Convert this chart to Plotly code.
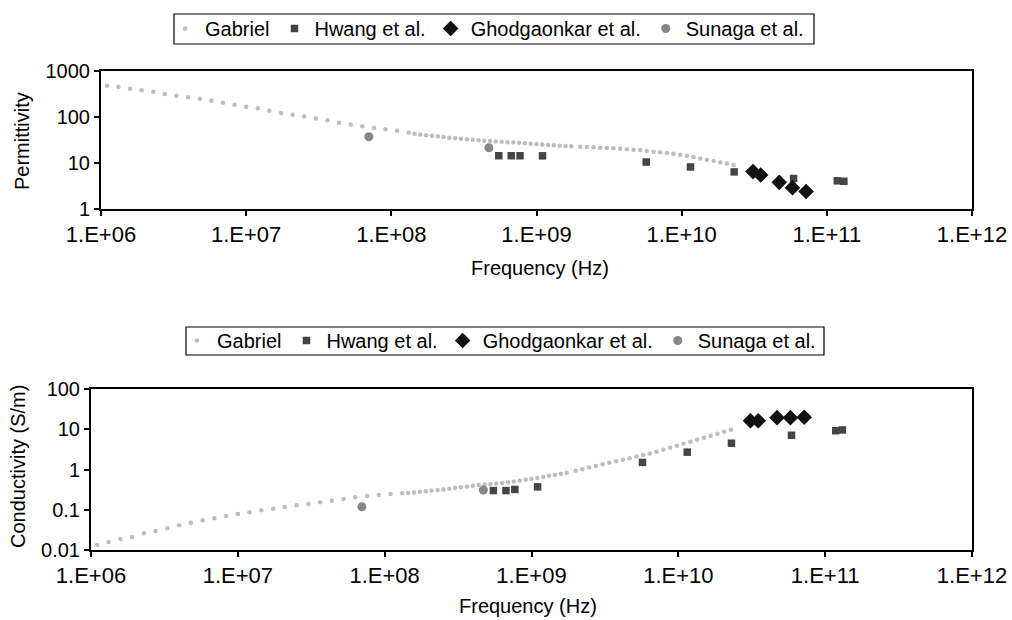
import plotly.graph_objects as go

# ---------------- data ----------------
gabriel_freq = [
    1.10e6, 1.318e6, 1.585e6, 1.905e6, 2.291e6, 2.754e6, 3.311e6, 3.981e6, 4.786e6,
    5.754e6, 6.918e6, 8.318e6, 1.0e7, 1.202e7, 1.445e7, 1.738e7, 2.089e7, 2.512e7,
    3.020e7, 3.631e7, 4.365e7, 5.248e7, 6.310e7, 7.586e7, 9.120e7, 1.096e8, 1.318e8,
    1.445e8, 1.585e8, 1.738e8, 1.905e8, 2.089e8, 2.291e8, 2.512e8, 2.754e8, 3.020e8,
    3.311e8, 3.631e8, 3.981e8, 4.365e8, 4.786e8, 5.248e8, 5.754e8, 6.310e8, 6.918e8,
    7.586e8, 8.318e8, 9.120e8, 1.0e9, 1.096e9, 1.202e9, 1.318e9, 1.445e9, 1.585e9,
    1.738e9,
    2.00e9, 2.22e9, 2.47e9, 2.74e9, 3.05e9, 3.39e9, 3.77e9, 4.19e9, 4.66e9, 5.18e9,
    5.75e9, 6.40e9, 7.11e9, 7.91e9, 8.79e9, 9.77e9, 1.086e10, 1.208e10, 1.343e10,
    1.493e10, 1.660e10, 1.845e10, 2.051e10, 2.280e10,
]
gabriel_perm = [
    480, 449, 412, 380, 355, 316, 290, 268, 250,
    226, 204, 185, 167, 155, 137, 122, 112, 104,
    93, 85, 75, 69, 63, 58, 54, 50, 46,
    43, 41.5, 40.2, 39, 38, 36.8, 35.5, 34.6, 33.7,
    32.8, 32, 31.2, 30.5, 29.9, 29.3, 28.8, 28.3, 27.9,
    27.4, 26.8, 26.2, 25.7, 25.2, 24.7, 24.2, 23.8, 23.4,
    23.0,
    22.6, 22.3, 21.9, 21.5, 21.2, 20.9, 20.5, 19.9, 19.5, 19.2,
    18.2, 17.6, 17.1, 16.5, 15.9, 15.1, 14.4, 13.5, 12.6,
    11.8, 11.0, 10.3, 9.7, 9.1,
]
gabriel_cond = [
    0.0133, 0.0158, 0.0188, 0.021, 0.026, 0.0296, 0.0345, 0.041, 0.0477,
    0.0546, 0.0612, 0.070, 0.078, 0.0863, 0.0966, 0.106, 0.117, 0.129,
    0.139, 0.153, 0.168, 0.185, 0.204, 0.22, 0.232, 0.246, 0.257,
    0.262, 0.27, 0.279, 0.289, 0.299, 0.309, 0.32, 0.334, 0.349,
    0.364, 0.38, 0.397, 0.412, 0.425, 0.438, 0.451, 0.465, 0.48,
    0.505, 0.53, 0.557, 0.585, 0.615, 0.655, 0.695, 0.735, 0.78,
    0.825,
    0.93, 1.02, 1.12, 1.23, 1.35, 1.47, 1.60, 1.74, 1.90, 2.09,
    2.29, 2.51, 2.77, 3.09, 3.47, 3.89, 4.37, 4.90, 5.50,
    6.17, 6.92, 7.76, 8.71, 9.77,
]

hwang_freq = [5.5e8, 6.7e8, 7.7e8, 1.1e9, 5.7e9, 1.15e10, 2.3e10, 5.9e10, 1.18e11, 1.31e11]
hwang_perm = [14.4, 14.4, 14.4, 14.3, 10.5, 8.2, 6.4, 4.6, 4.1, 4.0]
hwang_cond = [0.30, 0.30, 0.32, 0.37, 1.5, 2.7, 4.5, 7.1, 9.2, 9.6]

ghod_freq = [3.1e10, 3.5e10, 4.7e10, 5.8e10, 7.2e10]
ghod_perm = [6.5, 5.5, 3.8, 2.9, 2.4]
ghod_cond = [16.3, 16.3, 19.4, 19.4, 19.8]

sunaga_freq = [7.0e7, 4.7e8]
sunaga_perm = [37.3, 21.5]
sunaga_cond = [0.119, 0.31]

x_tickvals = [1e6, 1e7, 1e8, 1e9, 1e10, 1e11, 1e12]
x_ticktext = ["1.E+06", "1.E+07", "1.E+08", "1.E+09", "1.E+10", "1.E+11", "1.E+12"]
perm_tickvals = [1, 10, 100, 1000]
perm_ticktext = ["1", "10", "100", "1000"]
cond_tickvals = [0.01, 0.1, 1, 10, 100]
cond_ticktext = ["0.01", "0.1", "1", "10", "100"]

# ---------------- styling ----------------
FONT = "Liberation Sans, Arial, sans-serif"
W, H = 1012, 620

series = [
    ("Gabriel", gabriel_freq, gabriel_perm, gabriel_cond,
     dict(symbol="circle", size=4.5, color="#bdbdbd")),
    ("Hwang et al.", hwang_freq, hwang_perm, hwang_cond,
     dict(symbol="square", size=7.5, color="#454545")),
    ("Ghodgaonkar et al.", ghod_freq, ghod_perm, ghod_cond,
     dict(symbol="diamond", size=12, color="#111111")),
    ("Sunaga et al.", sunaga_freq, sunaga_perm, sunaga_cond,
     dict(symbol="circle", size=9, color="#868686")),
]

fig = go.Figure()
for name, fx, fp, fc, mk in series:
    fig.add_trace(go.Scatter(x=fx, y=fp, mode="markers", name=name, marker=mk,
                             xaxis="x", yaxis="y", legend="legend"))
for name, fx, fp, fc, mk in series:
    fig.add_trace(go.Scatter(x=fx, y=fc, mode="markers", name=name, marker=mk,
                             xaxis="x2", yaxis="y2", legend="legend2"))

def px_x(p):
    return p / W

def px_y(p):
    return 1 - p / H

axis_common = dict(
    type="log", showgrid=False, zeroline=False, showline=True, linecolor="black",
    linewidth=2, mirror=True, ticks="outside", ticklen=5, tickwidth=1.5,
    tickcolor="black", color="black", automargin=False,
)

legend_common = dict(
    orientation="h", xanchor="left", yanchor="top",
    borderwidth=0, bgcolor="rgba(0,0,0,0)",
    font=dict(size=20, family=FONT), itemwidth=30, tracegroupgap=0,
)

def frame(x0, y0, x1, y1):
    return dict(type="rect", xref="paper", yref="paper",
                x0=px_x(x0), x1=px_x(x1), y0=px_y(y1), y1=px_y(y0),
                line=dict(color="black", width=1.2), fillcolor="rgba(0,0,0,0)",
                layer="above")

fig.update_layout(
    template="none",
    width=W, height=H,
    margin=dict(l=0, r=0, t=0, b=0, autoexpand=False),
    paper_bgcolor="white", plot_bgcolor="white",
    font=dict(family=FONT, color="black", size=20),
    xaxis=dict(axis_common, domain=[px_x(101), px_x(972)], range=[6, 12], anchor="y",
               tickvals=x_tickvals, ticktext=x_ticktext, tickfont=dict(size=22)),
    yaxis=dict(axis_common, domain=[px_y(209), px_y(71)], range=[0, 3], anchor="x",
               tickvals=perm_tickvals, ticktext=perm_ticktext, tickfont=dict(size=20)),
    xaxis2=dict(axis_common, domain=[px_x(91), px_x(972)], range=[6, 12], anchor="y2",
                tickvals=x_tickvals, ticktext=x_ticktext, tickfont=dict(size=22)),
    yaxis2=dict(axis_common, domain=[px_y(550), px_y(389)], range=[-2, 2], anchor="x2",
                tickvals=cond_tickvals, ticktext=cond_ticktext, tickfont=dict(size=20)),
    legend=dict(legend_common, x=px_x(165), y=px_y(9)),
    legend2=dict(legend_common, x=px_x(177), y=px_y(321)),
    shapes=[frame(174, 14, 814, 44), frame(186, 327, 824, 355)],
    annotations=[
        dict(text="Frequency (Hz)", x=px_x(540), y=px_y(268), xref="paper", yref="paper",
             showarrow=False, xanchor="center", yanchor="middle", font=dict(size=20)),
        dict(text="Frequency (Hz)", x=px_x(528), y=px_y(606), xref="paper", yref="paper",
             showarrow=False, xanchor="center", yanchor="middle", font=dict(size=20)),
        dict(text="Permittivity", x=px_x(22), y=px_y(141), xref="paper", yref="paper",
             showarrow=False, xanchor="center", yanchor="middle", textangle=-90,
             font=dict(size=20)),
        dict(text="Conductivity (S/m)", x=px_x(18), y=px_y(467), xref="paper", yref="paper",
             showarrow=False, xanchor="center", yanchor="middle", textangle=-90,
             font=dict(size=20)),
    ],
)

fig.write_html(
    "out.html",
    config={"displayModeBar": False},
    post_script="document.body.style.margin='0';document.body.style.padding='0';",
)
